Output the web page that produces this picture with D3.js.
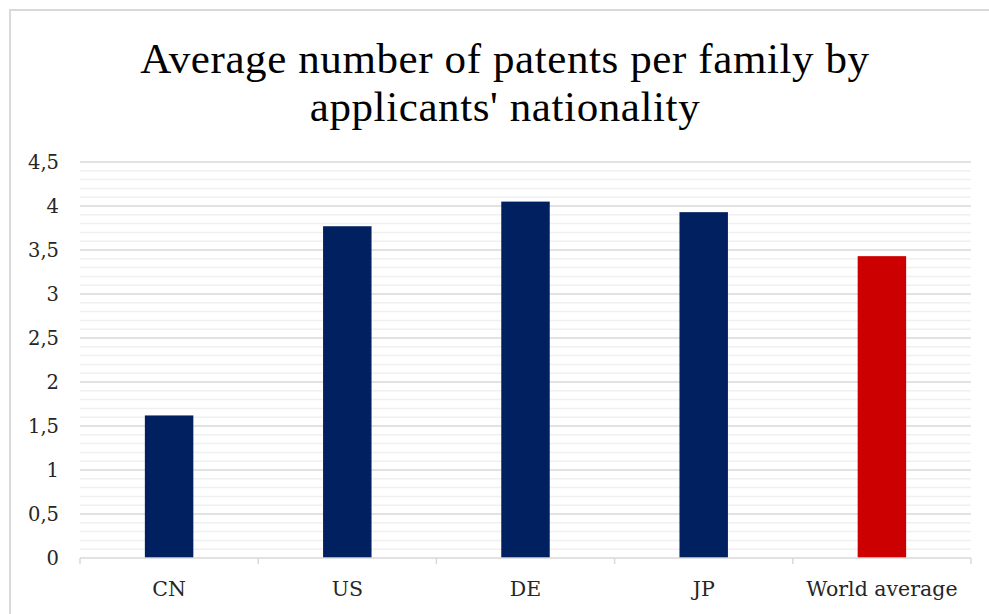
<!DOCTYPE html>
<html>
<head>
<meta charset="utf-8">
<script src="https://cdn.jsdelivr.net/npm/d3@7"></script>
<style>
  html, body { margin: 0; padding: 0; background: #ffffff; }
  svg { display: block; }
</style>
</head>
<body>
<svg id="chart" width="989" height="614"></svg>
<script>
// Average patents per family, by applicants' nationality
const titleLines = ["Average number of patents per family by", "applicants' nationality"];
const categories = ["CN", "US", "DE", "JP", "World average"];
const values = [1.62, 3.77, 4.05, 3.93, 3.43];
const barColors = ["#002060", "#002060", "#002060", "#002060", "#cc0000"];
const majorTicks = [0, 0.5, 1, 1.5, 2, 2.5, 3, 3.5, 4, 4.5];
const tickLabels = ["0", "0,5", "1", "1,5", "2", "2,5", "3", "3,5", "4", "4,5"];

const svg = d3.select("#chart");
const W = 989, H = 614;
const margin = { left: 80, right: 18, top: 162, bottom: 56 };
const plotW = W - margin.left - margin.right;
const plotH = H - margin.top - margin.bottom;
const titleFont = "'Liberation Serif', 'DejaVu Serif', serif";
const labelFont = "'DejaVu Serif', 'Liberation Serif', serif";

// chart frame
svg.append("rect")
  .attr("x", 10).attr("y", 10)
  .attr("width", W + 20).attr("height", H + 20)
  .attr("fill", "#ffffff")
  .attr("stroke", "#d9d9d9").attr("stroke-width", 2);

// title, one text element per line
svg.append("g").selectAll("text").data(titleLines).join("text")
  .attr("x", 505)
  .attr("y", (d, i) => 73 + i * 48)
  .attr("text-anchor", "middle")
  .attr("font-family", titleFont)
  .attr("font-size", 43)
  .attr("letter-spacing", 0.6)
  .attr("fill", "#000000")
  .text(d => d);

const g = svg.append("g").attr("transform", `translate(${margin.left},${margin.top})`);

const x = d3.scaleBand().domain(categories).range([0, plotW]).padding(0);
const y = d3.scaleLinear().domain([0, 4.5]).range([plotH, 0]);

// minor gridlines every 0.1
const minor = d3.range(0, 45).map(i => i / 10).filter(v => Math.abs(v * 2 - Math.round(v * 2)) > 1e-6);
g.append("g").selectAll("line").data(minor).join("line")
  .attr("x1", 0).attr("x2", plotW)
  .attr("y1", d => y(d)).attr("y2", d => y(d))
  .attr("stroke", "#f0f0f0").attr("stroke-width", 1.5);

// major gridlines
g.append("g").selectAll("line").data(majorTicks.filter(v => v > 0)).join("line")
  .attr("x1", 0).attr("x2", plotW)
  .attr("y1", d => y(d)).attr("y2", d => y(d))
  .attr("stroke", "#d9d9d9").attr("stroke-width", 1.5);

// y axis labels
const yAxis = d3.axisLeft(y).tickValues(majorTicks)
  .tickFormat((d, i) => tickLabels[i]).tickSize(0).tickPadding(21);
g.append("g").call(yAxis)
  .call(s => s.select(".domain").remove())
  .call(s => s.selectAll("text")
    .attr("font-family", labelFont).attr("font-size", 19.5).attr("fill", "#262626"));

// bars
const barW = x.bandwidth() * 0.272;
g.append("g").selectAll("rect").data(values).join("rect")
  .attr("x", (d, i) => x(categories[i]) + x.bandwidth() / 2 - barW / 2)
  .attr("width", barW)
  .attr("y", d => y(d))
  .attr("height", d => plotH - y(d))
  .attr("fill", (d, i) => barColors[i]);

// x axis with boundary ticks
const xAxisG = g.append("g").attr("transform", `translate(0,${plotH})`);
xAxisG.append("line")
  .attr("x1", 0).attr("x2", plotW).attr("y1", 0).attr("y2", 0)
  .attr("stroke", "#d9d9d9").attr("stroke-width", 1.5);
const bounds = categories.map(c => x(c)).concat([plotW]);
xAxisG.selectAll("line.tick").data(bounds).join("line")
  .attr("class", "tick")
  .attr("x1", d => d).attr("x2", d => d)
  .attr("y1", 0).attr("y2", 6)
  .attr("stroke", "#d9d9d9").attr("stroke-width", 1.5);
xAxisG.selectAll("text").data(categories).join("text")
  .attr("x", d => x(d) + x.bandwidth() / 2)
  .attr("y", 38)
  .attr("text-anchor", "middle")
  .attr("font-family", labelFont).attr("font-size", 20.5).attr("fill", "#262626")
  .text(d => d);
</script>
</body>
</html>
